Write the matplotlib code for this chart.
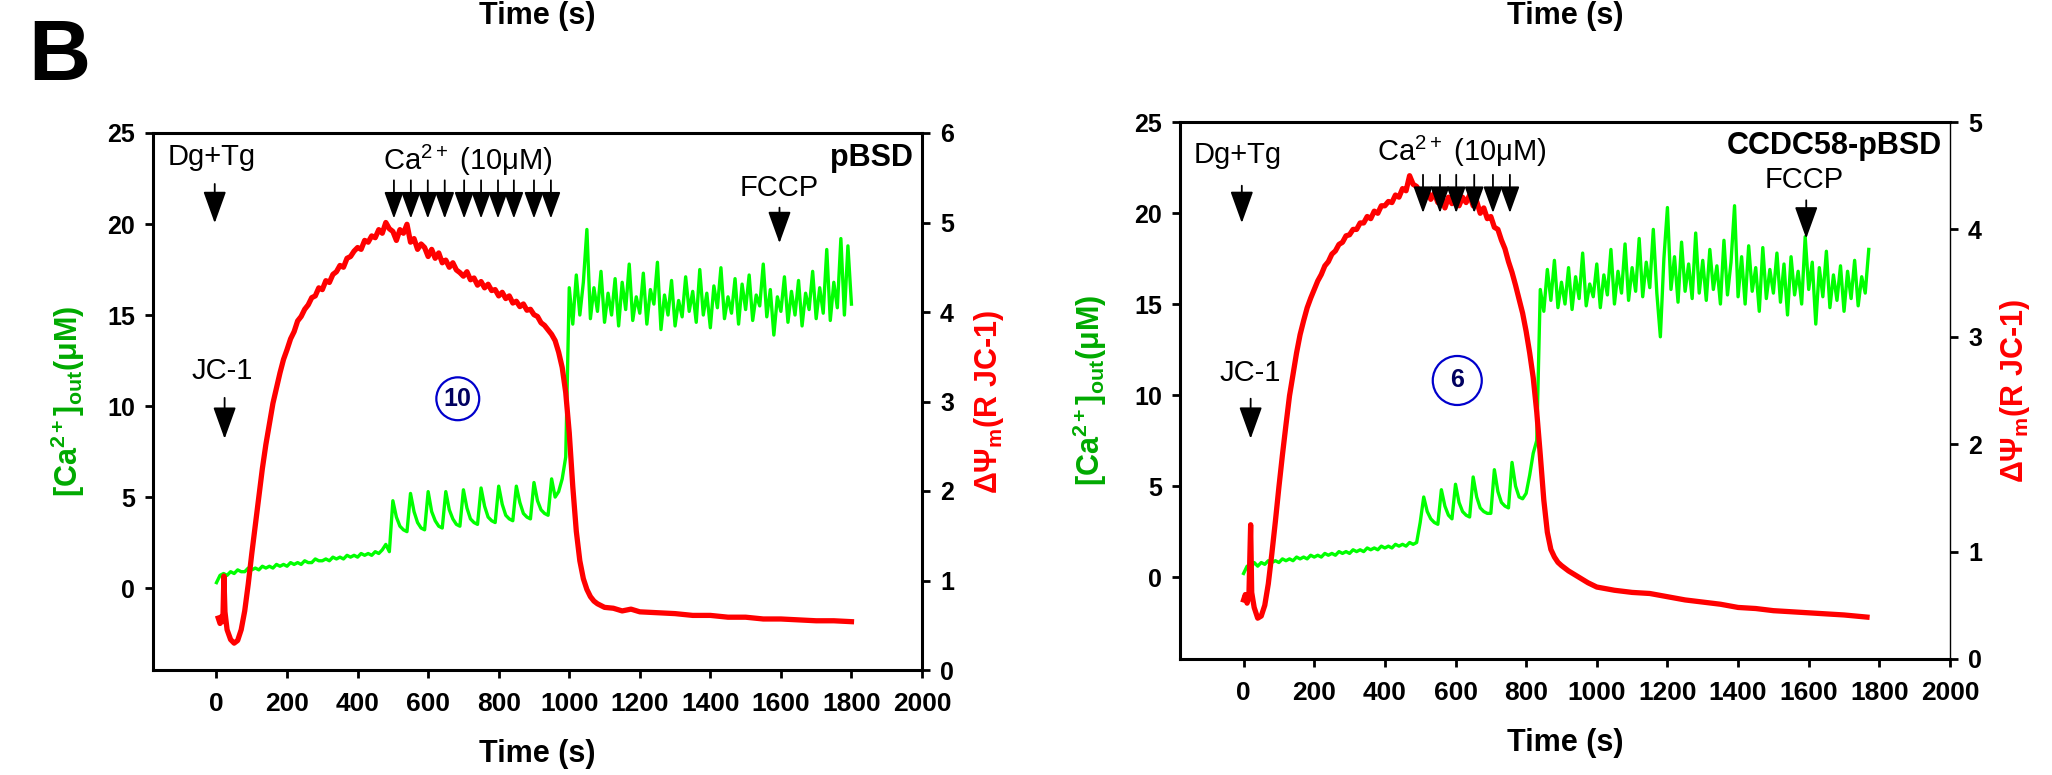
import numpy as np
import matplotlib
matplotlib.use('Agg')
import matplotlib.pyplot as plt

plt.rcParams['font.family'] = ['Liberation Sans', 'DejaVu Sans']
plt.rcParams['mathtext.fontset'] = 'custom'
plt.rcParams['mathtext.rm'] = 'Liberation Sans'
plt.rcParams['mathtext.it'] = 'Liberation Sans:italic'
plt.rcParams['mathtext.bf'] = 'Liberation Sans:bold'

# ---------------- panel 1 : pBSD ----------------
t_ca_a = np.arange(0, 1810, 10)            # sample times (s)
ca_a = [0.3, 0.7, 0.8, 0.7, 0.9, 0.8, 1.0, 0.9, 0.9, 1.1,
        1.0, 1.1, 1.0, 1.2, 1.1, 1.2, 1.1, 1.3, 1.2, 1.3,
        1.2, 1.4, 1.3, 1.4, 1.3, 1.5, 1.4, 1.4, 1.6, 1.5,
        1.5, 1.6, 1.5, 1.7, 1.6, 1.7, 1.6, 1.8, 1.7, 1.8,
        1.7, 1.9, 1.8, 1.9, 1.8, 2.0, 1.9, 2.1, 2.4, 2.0,
        4.8, 3.9, 3.4, 3.2, 3.1, 5.2, 4.2, 3.6, 3.3, 3.2,
        5.3, 4.2, 3.7, 3.4, 3.3, 5.3, 4.3, 3.8, 3.5, 3.4,
        5.4, 4.4, 3.8, 3.6, 3.5, 5.5, 4.5, 3.9, 3.7, 3.6,
        5.6, 4.6, 4.0, 3.8, 3.7, 5.6, 4.7, 4.1, 3.9, 3.8,
        5.8, 4.8, 4.3, 4.1, 4.0, 6.0, 5.0, 5.3, 6.0, 7.2,
        16.5, 14.5, 17.2, 15.0, 16.8, 19.7, 14.8, 16.5, 15.2, 17.4,
        14.6, 16.2, 15.0, 17.0, 14.4, 16.8, 15.3, 17.8, 14.7, 16.0,
        15.1, 17.3, 14.5, 16.4, 15.6, 17.9, 14.2, 16.1, 15.0, 16.9,
        14.4, 15.8, 14.9, 17.1, 15.2, 16.3, 14.6, 17.5, 15.0, 16.2,
        14.3, 16.6, 15.4, 17.6, 14.8, 16.0, 15.1, 17.0, 14.5, 16.7,
        15.3, 17.2, 14.7, 16.1, 15.5, 17.8, 14.9, 16.4, 13.9, 16.0,
        15.2, 17.1, 14.6, 16.3, 15.0, 16.9, 14.4, 16.2, 15.3, 17.4,
        14.8, 16.5, 15.1, 18.6, 14.7, 16.8, 15.4, 19.2, 15.0, 18.8,
        15.6]

t_psi_a = ([5, 10, 15, 18, 21, 24, 30, 40, 50, 60, 70, 80, 90]
           + list(range(100, 1110, 10))
           + [1125, 1150, 1175, 1200, 1250, 1300, 1350, 1400, 1450, 1500,
              1550, 1600, 1650, 1700, 1750, 1800])
psi_a = ([0.58, 0.52, 0.60, 0.54, 1.05, 0.65, 0.45, 0.34, 0.30, 0.33, 0.45, 0.66, 0.96]
         + [1.30, 1.62, 1.95, 2.25, 2.52, 2.75, 2.98, 3.15, 3.32, 3.47,
            3.58, 3.70, 3.78, 3.90, 3.95, 4.03, 4.08, 4.16, 4.18, 4.27,
            4.25, 4.35, 4.33, 4.42, 4.45, 4.52, 4.50, 4.60, 4.62, 4.68,
            4.72, 4.70, 4.80, 4.78, 4.85, 4.83, 4.92, 4.88, 5.00, 4.93,
            4.90, 4.80, 4.92, 4.88, 4.98, 4.78, 4.82, 4.70, 4.76, 4.72,
            4.62, 4.70, 4.60, 4.66, 4.55, 4.58, 4.50, 4.55, 4.47, 4.44,
            4.40, 4.45, 4.36, 4.38, 4.30, 4.34, 4.27, 4.31, 4.24, 4.25,
            4.18, 4.22, 4.15, 4.18, 4.10, 4.12, 4.06, 4.09, 4.02, 4.03,
            3.97, 3.95, 3.88, 3.85, 3.80, 3.75, 3.68, 3.55, 3.38, 3.10,
            2.65, 2.05, 1.55, 1.22, 1.02, 0.90, 0.82, 0.77, 0.74, 0.72, 0.70]
         + [0.69, 0.66, 0.68, 0.65, 0.64, 0.63, 0.61, 0.61, 0.59, 0.59,
            0.57, 0.57, 0.56, 0.55, 0.55, 0.54])

ca_adds_a = [503, 551, 599, 647, 702, 750, 798, 843, 900, 948]

# ---------------- panel 2 : CCDC58-pBSD ----------------
t_ca_b = np.arange(0, 1780, 10)
ca_b = [0.2, 0.6, 0.5, 0.8, 0.6, 0.8, 0.7, 0.9, 0.8, 0.9,
        0.8, 1.0, 0.9, 1.0, 0.9, 1.1, 1.0, 1.1, 1.0, 1.2,
        1.1, 1.2, 1.1, 1.3, 1.2, 1.3, 1.2, 1.4, 1.3, 1.4,
        1.3, 1.5, 1.4, 1.5, 1.4, 1.6, 1.5, 1.6, 1.5, 1.7,
        1.6, 1.7, 1.6, 1.8, 1.7, 1.8, 1.7, 1.9, 1.8, 1.9,
        3.0, 4.4, 3.6, 3.2, 3.0, 2.9, 4.8, 3.9, 3.4, 3.2,
        5.1, 4.1, 3.6, 3.4, 3.3, 5.5, 4.4, 3.8, 3.6, 3.5,
        3.5, 5.9, 4.7, 4.1, 3.9, 3.8, 6.3, 5.0, 4.4, 4.3,
        4.6, 5.6, 6.8, 7.5, 15.8, 14.6, 16.9, 15.2, 17.4, 14.8,
        16.2, 15.0, 17.0, 14.7, 16.5, 15.3, 17.8, 14.9, 16.1, 15.4,
        17.2, 14.8, 16.6, 15.5, 18.0, 15.0, 16.8, 15.6, 18.3, 15.2,
        17.0, 15.7, 18.6, 15.4, 17.3, 15.9, 19.1, 15.6, 13.2, 17.5,
        20.3, 15.8, 17.6, 15.1, 18.4, 15.7, 17.2, 15.3, 18.9, 15.6,
        17.4, 15.2, 18.0, 15.8, 17.1, 15.0, 18.5, 15.5, 17.3, 20.4,
        15.4, 17.6, 15.0, 18.2, 15.7, 17.0, 14.6, 18.1, 15.3, 16.9,
        15.6, 17.8, 15.1, 17.2, 14.4, 17.6, 15.5, 16.8, 15.0, 18.7,
        15.8, 17.3, 13.9, 17.0, 15.4, 17.9, 14.8, 16.6, 15.2, 17.1,
        14.6, 16.8, 15.3, 17.4, 14.9, 16.5, 15.6, 18.0]

t_psi_b = ([0, 5, 10, 15, 20, 23, 30, 40, 50, 60, 70, 80, 90]
           + list(range(100, 910, 10))
           + [920, 950, 975, 1000, 1050, 1100, 1150, 1200, 1250, 1300,
              1350, 1400, 1450, 1500, 1550, 1600, 1650, 1700, 1765])
psi_b = ([0.55, 0.60, 0.52, 0.58, 1.25, 0.62, 0.48, 0.38, 0.40, 0.50, 0.70, 0.98, 1.28]
         + [1.60, 1.90, 2.18, 2.45, 2.65, 2.85, 3.02, 3.15, 3.27, 3.36,
            3.44, 3.52, 3.58, 3.66, 3.70, 3.77, 3.80, 3.86, 3.88, 3.94,
            3.95, 4.00, 4.00, 4.06, 4.06, 4.12, 4.10, 4.17, 4.15, 4.22,
            4.22, 4.26, 4.25, 4.32, 4.30, 4.38, 4.36, 4.50, 4.42, 4.40,
            4.34, 4.26, 4.36, 4.28, 4.34, 4.25, 4.32, 4.20, 4.30, 4.24,
            4.28, 4.22, 4.30, 4.25, 4.32, 4.22, 4.26, 4.15, 4.20, 4.10,
            4.12, 4.02, 4.00, 3.90, 3.82, 3.70, 3.60, 3.48, 3.35, 3.22,
            3.05, 2.85, 2.62, 2.30, 1.90, 1.48, 1.18, 1.02, 0.95, 0.90,
            0.87]
         + [0.82, 0.76, 0.71, 0.67, 0.64, 0.62, 0.61, 0.58, 0.55, 0.53,
            0.51, 0.48, 0.47, 0.45, 0.44, 0.43, 0.42, 0.41, 0.39])

ca_adds_b = [508, 556, 602, 653, 706, 754]

x_ticks = list(range(0, 2001, 200))

GREEN = '#00ff00'
RED = '#ff0000'
LABEL_GREEN = '#00aa00'


def down_arrow(ax2, ax, x, y_top, y_tip, hw=0.36, hl=1.0):
    ax2.annotate('', xy=(x, y_tip), xytext=(x, y_top),
                 xycoords=ax.transData, textcoords=ax.transData,
                 arrowprops=dict(arrowstyle=f'-|>,head_width={hw},head_length={hl}',
                                 color='black', lw=1.3, shrinkA=0, shrinkB=0,
                                 mutation_scale=20))


def panel(rect, t_ca, ca, t_psi, psi, psi_max, right_lw, glx, rlx):
    ax = fig.add_axes(rect)
    ax2 = ax.twinx()
    ax.plot(t_ca, ca, color=GREEN, lw=2.4)
    ax2.plot(t_psi, psi, color=RED, lw=3.8)

    ax.set_xlim(-180, 2000)
    ax.set_ylim(-4.5, 25)
    ax2.set_ylim(0, psi_max)
    ax.set_xticks(x_ticks)
    ax.set_yticks(range(0, 26, 5))
    ax2.set_yticks(range(0, psi_max + 1))

    for s in ['left', 'bottom', 'top']:
        ax.spines[s].set_linewidth(2.2)
    ax.spines['right'].set_visible(False)
    for s in ['left', 'bottom', 'top']:
        ax2.spines[s].set_visible(False)
    ax2.spines['right'].set_linewidth(right_lw)

    ax.tick_params(axis='x', direction='out', length=6, width=2, pad=10, labelsize=19)
    ax.tick_params(axis='y', direction='out', length=6, width=2, pad=7, labelsize=18)
    ax2.tick_params(axis='y', direction='out', length=6, width=2, pad=7, labelsize=18)
    for lab in ax.get_xticklabels() + ax.get_yticklabels() + ax2.get_yticklabels():
        lab.set_fontweight('bold')

    ax.set_xlabel('Time (s)', fontsize=22, fontweight='bold')
    ax.xaxis.label.set_va('baseline')
    ax.xaxis.set_label_coords(0.5, -0.171)
    ax.set_ylabel('[Ca$^\\mathbf{2+}$]$_\\mathbf{out}$(μM)', fontsize=22,
                  fontweight='bold', color=LABEL_GREEN)
    ax.yaxis.set_label_coords(glx, 0.5)
    ax2.set_ylabel('ΔΨ$_\\mathbf{m}$(R JC-1)', fontsize=22, fontweight='bold', color=RED)
    ax2.yaxis.set_label_coords(rlx, 0.5)
    return ax, ax2


fig = plt.figure(figsize=(20.52, 7.75), dpi=100)

# panel 1
ax, ax2 = panel([153 / 2052, 1 - 670 / 775, 769 / 2052, 537 / 775],
                t_ca_a, ca_a, t_psi_a, psi_a, 6, 2.2, -0.086, 1.065)
tr = ax.transData
ax2.text(-13, 23.7, 'Dg+Tg', transform=tr, fontsize=21, ha='center', va='center')
down_arrow(ax2, ax, -5, 22.2, 20.05)
ax2.text(15, 11.9, 'JC-1', transform=tr, fontsize=21, ha='center', va='center')
down_arrow(ax2, ax, 23, 10.45, 8.2)
ax2.text(471, 23.5, 'Ca$^{2+}$ (10μM)', transform=tr, fontsize=21, ha='left', va='center')
for x in ca_adds_a:
    down_arrow(ax2, ax, x, 22.4, 20.3, hw=0.3, hl=0.83)
ax2.text(1595, 22.0, 'FCCP', transform=tr, fontsize=21, ha='center', va='center')
down_arrow(ax2, ax, 1596, 20.9, 18.95)
ax2.text(1974, 23.6, 'pBSD', transform=tr, fontsize=22, fontweight='bold',
         ha='right', va='center')
ax2.text(684, 10.4, '10', transform=tr, fontsize=18, fontweight='bold', color='#000060',
         ha='center', va='center',
         bbox=dict(boxstyle='circle,pad=0.3', fc='white', ec='#0000cc', lw=1.6))

# panel 2
bx, bx2 = panel([1180 / 2052, 1 - 659 / 775, 770 / 2052, 537 / 775],
                t_ca_b, ca_b, t_psi_b, psi_b, 5, 1.0, -0.092, 1.062)
tr = bx.transData
bx2.text(-17, 23.2, 'Dg+Tg', transform=tr, fontsize=21, ha='center', va='center')
down_arrow(bx2, bx, -5, 21.5, 19.45)
bx2.text(20, 11.2, 'JC-1', transform=tr, fontsize=21, ha='center', va='center')
down_arrow(bx2, bx, 20, 9.8, 7.6)
bx2.text(378, 23.4, 'Ca$^{2+}$ (10μM)', transform=tr, fontsize=21, ha='left', va='center')
for x in ca_adds_b:
    down_arrow(bx2, bx, x, 22.1, 20.0, hw=0.3, hl=0.83)
bx2.text(1588, 21.8, 'FCCP', transform=tr, fontsize=21, ha='center', va='center')
down_arrow(bx2, bx, 1593, 20.7, 18.6)
bx2.text(1977, 23.7, 'CCDC58-pBSD', transform=tr, fontsize=22, fontweight='bold',
         ha='right', va='center')
bx2.text(605, 10.8, '6', transform=tr, fontsize=18, fontweight='bold', color='#000060',
         ha='center', va='center',
         bbox=dict(boxstyle='circle,pad=0.5', fc='white', ec='#0000cc', lw=1.6))

# panel letter and x labels of the row above (cut at the top in the source figure)
fig.text(28 / 2052, 1 - 58 / 775, 'B', fontsize=62, fontweight='bold', ha='left', va='center')
fig.text(537.5 / 2052, 1 - 1 / 775, 'Time (s)', fontsize=22, fontweight='bold',
         ha='center', va='top')
fig.text(1565 / 2052, 1 - 1 / 775, 'Time (s)', fontsize=22, fontweight='bold',
         ha='center', va='top')

fig.savefig('out.png', dpi=100)
